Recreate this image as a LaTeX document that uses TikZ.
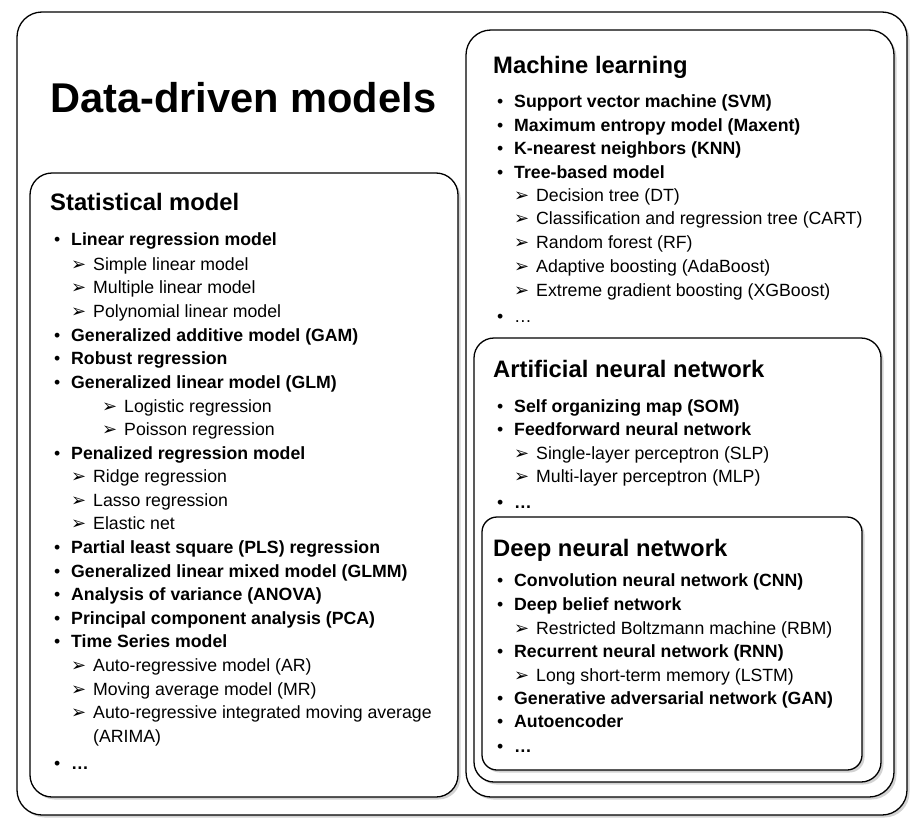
\documentclass[tikz,border=0pt]{standalone}
\usepackage{fontspec}
\setmainfont{Liberation Sans}
\newfontfamily\dejavu{DejaVu Sans}
\usetikzlibrary{shadows}

\newcommand{\bul}[1]{\llap{\textbullet\hspace{11pt}}\textbf{#1}}
\newcommand{\arr}[1]{\llap{{\dejavu\fontsize{18}{18}\selectfont ➢}\hspace{7pt}}#1}

\begin{document}
\begin{tikzpicture}[x=1pt, y=-1pt]

      \tikzset{box/.style={draw, line width=1.3pt, fill=white,
                 drop shadow={shadow xshift=2.5pt, shadow yshift=-2.5pt, opacity=0.35}},
               head/.style={anchor=base west, inner sep=0pt, font=\fontsize{23.8}{24}\selectfont\bfseries},
               entry/.style={anchor=base west, inner sep=0pt, font=\fontsize{17.7}{18}\selectfont}}
      \useasboundingbox (0,0) rectangle (920,827);
%% Boxes
      	\draw[box, rounded corners=25pt] (17,12) rectangle (907,815);
      	\draw[box, rounded corners=22pt] (30,173) rectangle (458,797);
      	\draw[box, rounded corners=25pt] (466,30) rectangle (894,797);
      	\draw[box, rounded corners=20pt] (474,338) rectangle (881,782);
      	\draw[box, rounded corners=15pt] (482,517) rectangle (862,770);
%% Titles
      	\node[anchor=base west, inner sep=0pt, font=\fontsize{41.6}{42}\selectfont\bfseries] (title) at (50,112) {Data-driven models};
      	\node[head] (stat) at (50,210) {Statistical model};
      	\node[head] (ml) at (493,73) {Machine learning};
      	\node[head] (ann) at (493,377) {Artificial neural network};
      	\node[head] (dnn) at (493,556) {Deep neural network};
%% Statistical model
		\foreach [count=\i] \x/\y/\t in {
			71/245/{\bul{Linear regression model}},
			93/270/{\arr{Simple linear model}},
			93/293/{\arr{Multiple linear model}},
			93/317/{\arr{Polynomial linear model}},
			71/341/{\bul{Generalized additive model (GAM)}},
			71/364/{\bul{Robust regression}},
			71/388/{\bul{Generalized linear model (GLM)}},
			124/412/{\arr{Logistic regression}},
			124/435/{\arr{Poisson regression}},
			71/459/{\bul{Penalized regression model}},
			93/482/{\arr{Ridge regression}},
			93/506/{\arr{Lasso regression}},
			93/529/{\arr{Elastic net}},
			71/553/{\bul{Partial least square (PLS) regression}},
			71/577/{\bul{Generalized linear mixed model (GLMM)}},
			71/600/{\bul{Analysis of variance (ANOVA)}},
			71/624/{\bul{Principal component analysis (PCA)}},
			71/647/{\bul{Time Series model}},
			93/671/{\arr{Auto-regressive model (AR)}},
			93/695/{\arr{Moving average model (MR)}},
			93/718/{\arr{Auto-regressive integrated moving average}},
			93/742/{(ARIMA)},
			71/769/{\bul{…}}}
			\node[entry] (stat-\i) at (\x,\y) {\t};
%% Machine learning
		\foreach [count=\i] \x/\y/\t in {
			514/107/{\bul{Support vector machine (SVM)}},
			514/131/{\bul{Maximum entropy model (Maxent)}},
			514/154/{\bul{K-nearest neighbors (KNN)}},
			514/178/{\bul{Tree-based model}},
			536/201/{\arr{Decision tree (DT)}},
			536/224/{\arr{Classification and regression tree (CART)}},
			536/248/{\arr{Random forest (RF)}},
			536/272/{\arr{Adaptive boosting (AdaBoost)}},
			536/296/{\arr{Extreme gradient boosting (XGBoost)}},
			514/322/{\llap{\textbullet\hspace{11pt}}…}}
			\node[entry] (ml-\i) at (\x,\y) {\t};
%% Artificial neural network
		\foreach [count=\i] \x/\y/\t in {
			514/412/{\bul{Self organizing map (SOM)}},
			514/435/{\bul{Feedforward neural network}},
			536/459/{\arr{Single-layer perceptron (SLP)}},
			536/482/{\arr{Multi-layer perceptron (MLP)}},
			514/508/{\bul{…}}}
			\node[entry] (ann-\i) at (\x,\y) {\t};
%% Deep neural network
		\foreach [count=\i] \x/\y/\t in {
			514/586/{\bul{Convolution neural network (CNN)}},
			514/610/{\bul{Deep belief network}},
			536/634/{\arr{Restricted Boltzmann machine (RBM)}},
			514/657/{\bul{Recurrent neural network (RNN)}},
			536/681/{\arr{Long short-term memory (LSTM)}},
			514/704/{\bul{Generative adversarial network (GAN)}},
			514/727/{\bul{Autoencoder}},
			514/752/{\bul{…}}}
			\node[entry] (dnn-\i) at (\x,\y) {\t};

	\end{tikzpicture}
\end{document}
